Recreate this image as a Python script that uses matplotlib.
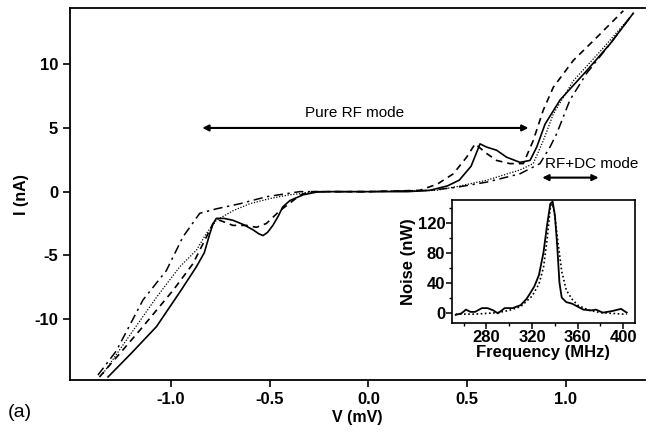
import matplotlib
matplotlib.use("Agg")
import matplotlib.pyplot as plt
from matplotlib.ticker import FormatStrFormatter, MultipleLocator

plt.rcParams['font.family'] = ['Liberation Sans', 'DejaVu Sans']
plt.rcParams['axes.unicode_minus'] = False

# I-V curves (V in mV, I in nA)
v_solid = [-1.317, -1.2, -1.072, -0.95, -0.87, -0.83, -0.802, -0.785, -0.769, -0.73, -0.685,
           -0.63, -0.583, -0.555, -0.533, -0.51, -0.483, -0.455, -0.433, -0.397, -0.33, -0.26,
           -0.2, 0.0, 0.2, 0.31, 0.4, 0.46, 0.52, 0.565, 0.598, 0.649, 0.70, 0.767, 0.818,
           0.852, 0.894, 0.97, 1.105, 1.223, 1.34]
i_solid = [-14.55, -12.7, -10.6, -7.8, -5.9, -4.8, -3.3, -2.5, -2.1, -2.1, -2.25,
           -2.6, -3.0, -3.3, -3.45, -3.2, -2.65, -1.9, -1.2, -0.7, -0.25, -0.03,
           0, 0, 0, 0.1, 0.45, 0.9, 2.0, 3.75, 3.5, 3.25, 2.7, 2.3, 2.45,
           3.5, 5.3, 7.2, 9.5, 11.6, 14.0]

v_dashed = [-1.36, -1.157, -0.988, -0.887, -0.819, -0.786, -0.752, -0.685, -0.617, -0.566,
            -0.516, -0.448, -0.397, -0.347, -0.3, 0.0, 0.26, 0.35, 0.43, 0.497, 0.54, 0.598,
            0.649, 0.716, 0.784, 0.834, 0.885, 0.936, 1.037, 1.155, 1.29]
i_dashed = [-14.55, -10.9, -7.75, -5.65, -3.55, -2.5, -2.25, -2.65, -2.65, -2.8,
            -2.5, -1.5, -0.9, -0.3, 0, 0, 0.1, 0.6, 1.4, 2.7, 3.75, 3.0,
            2.45, 2.2, 2.2, 4.0, 6.4, 8.2, 10.3, 12.1, 14.2]

v_dotted = [-1.343, -1.19, -1.072, -0.954, -0.87, -0.82, -0.769, -0.685, -0.6, -0.5, -0.4,
            -0.25, 0.0, 0.345, 0.45, 0.6, 0.767, 0.834, 0.885, 0.936, 1.037, 1.19, 1.324]
i_dotted = [-14.3, -10.9, -8.3, -5.9, -4.6, -3.3, -2.25, -1.5, -0.95, -0.55, -0.25,
            0, 0, 0.1, 0.4, 0.9, 1.7, 2.2, 4.0, 6.1, 8.7, 11.3, 13.7]

v_dashdot = [-1.368, -1.275, -1.14, -1.022, -0.938, -0.853, -0.769, -0.65, -0.516, -0.347,
             0.0, 0.31, 0.45, 0.6, 0.767, 0.868, 0.919, 0.953, 1.02, 1.105, 1.223, 1.34]
i_dashdot = [-14.4, -12.5, -8.5, -6.2, -3.55, -1.7, -1.35, -0.95, -0.4, 0,
             0, 0.1, 0.35, 0.75, 1.4, 2.2, 3.5, 4.55, 7.2, 9.3, 11.6, 14.0]

# inset noise spectra (MHz, nW)
f_solid = [253, 258, 262, 266, 270, 276, 281, 286, 290, 296, 303, 310, 315, 318, 322, 326,
           330, 333, 336, 338, 340, 342, 344, 346, 350, 355, 360, 365, 372, 376, 382, 390,
           398, 403]
n_solid = [-3, -1, 4, 1, 1, 6, 6, 3, -1, 6, 6, 10, 18, 25, 35, 50,
           80, 115, 145, 148, 130, 90, 40, 20, 14, 12, 8, 4, 3, 4, 0, 2,
           5, 0]
f_dotted = [253, 270, 290, 300, 310, 320, 326, 330, 333, 336, 338, 340, 343, 346, 350, 355,
            360, 370, 380, 400, 403]
n_dotted = [-2, -2, 0, 3, 8, 22, 38, 60, 95, 140, 145, 128, 90, 55, 30, 18,
            10, 3, 0, -2, -2]

fig = plt.figure(figsize=(6.47, 4.32), dpi=100)
ax = fig.add_axes([0.108, 0.120, 0.889, 0.861])

ax.plot(v_solid, i_solid, color='black', lw=1.2, ls='-')
ax.plot(v_dashed, i_dashed, color='black', lw=1.2, ls=(0, (4, 3)))
ax.plot(v_dotted, i_dotted, color='black', lw=0.9, ls=(0, (1, 1.3)))
ax.plot(v_dashdot, i_dashdot, color='black', lw=1.1, ls=(0, (6, 3, 1.5, 3)))

ax.set_xlim(-1.51, 1.40)
ax.set_ylim(-14.8, 14.4)
ax.set_xticks([-1.0, -0.5, 0.0, 0.5, 1.0])
ax.set_yticks([-10, -5, 0, 5, 10])
ax.xaxis.set_major_formatter(FormatStrFormatter('%.1f'))
ax.spines['right'].set_visible(False)
for s in ['left', 'top', 'bottom']:
    ax.spines[s].set_linewidth(1.3)
ax.tick_params(direction='out', length=5, width=1.2, labelsize=12)
for lab in ax.get_xticklabels() + ax.get_yticklabels():
    lab.set_fontweight('bold')
ax.set_xlabel('V (mV)', fontsize=11.5, fontweight='bold', labelpad=2)
ax.set_ylabel('I (nA)', fontsize=11.5, fontweight='bold', labelpad=4)

# mode annotations
ax.annotate('', xy=(-0.84, 5.0), xytext=(0.81, 5.0),
            arrowprops=dict(arrowstyle='<|-|>', color='black', lw=1.5,
                            mutation_scale=9, shrinkA=0, shrinkB=0))
ax.text(-0.07, 6.2, 'Pure RF mode', ha='center', va='center', fontsize=11)
ax.annotate('', xy=(0.88, 1.1), xytext=(1.165, 1.1),
            arrowprops=dict(arrowstyle='<|-|>', color='black', lw=1.5,
                            mutation_scale=9, shrinkA=0, shrinkB=0))
ax.text(0.895, 2.2, 'RF+DC mode', ha='left', va='center', fontsize=11)

fig.text(0.012, 0.035, '(a)', fontsize=14)

# inset
ins = fig.add_axes([0.699, 0.252, 0.282, 0.285])
ins.plot(f_solid, n_solid, color='black', lw=1.3, ls='-')
ins.plot(f_dotted, n_dotted, color='black', lw=1.2, ls=(0, (1, 1.5)))
ins.set_xlim(250, 410)
ins.set_ylim(-14, 150)
ins.set_xticks([280, 320, 360, 400])
ins.set_yticks([0, 40, 80, 120])
ins.xaxis.set_minor_locator(MultipleLocator(20))
ins.yaxis.set_minor_locator(MultipleLocator(20))
for s in ins.spines.values():
    s.set_linewidth(1.2)
ins.tick_params(which='major', direction='out', length=4, width=1.1, labelsize=12, pad=1)
ins.tick_params(which='minor', direction='out', length=2.5, width=1.0)
for lab in ins.get_xticklabels() + ins.get_yticklabels():
    lab.set_fontweight('bold')
ins.set_xlabel('Frequency (MHz)', fontsize=12, fontweight='bold', labelpad=0)
ins.set_ylabel('Noise (nW)', fontsize=12, fontweight='bold', labelpad=1)

fig.savefig('out.png', dpi=100)
